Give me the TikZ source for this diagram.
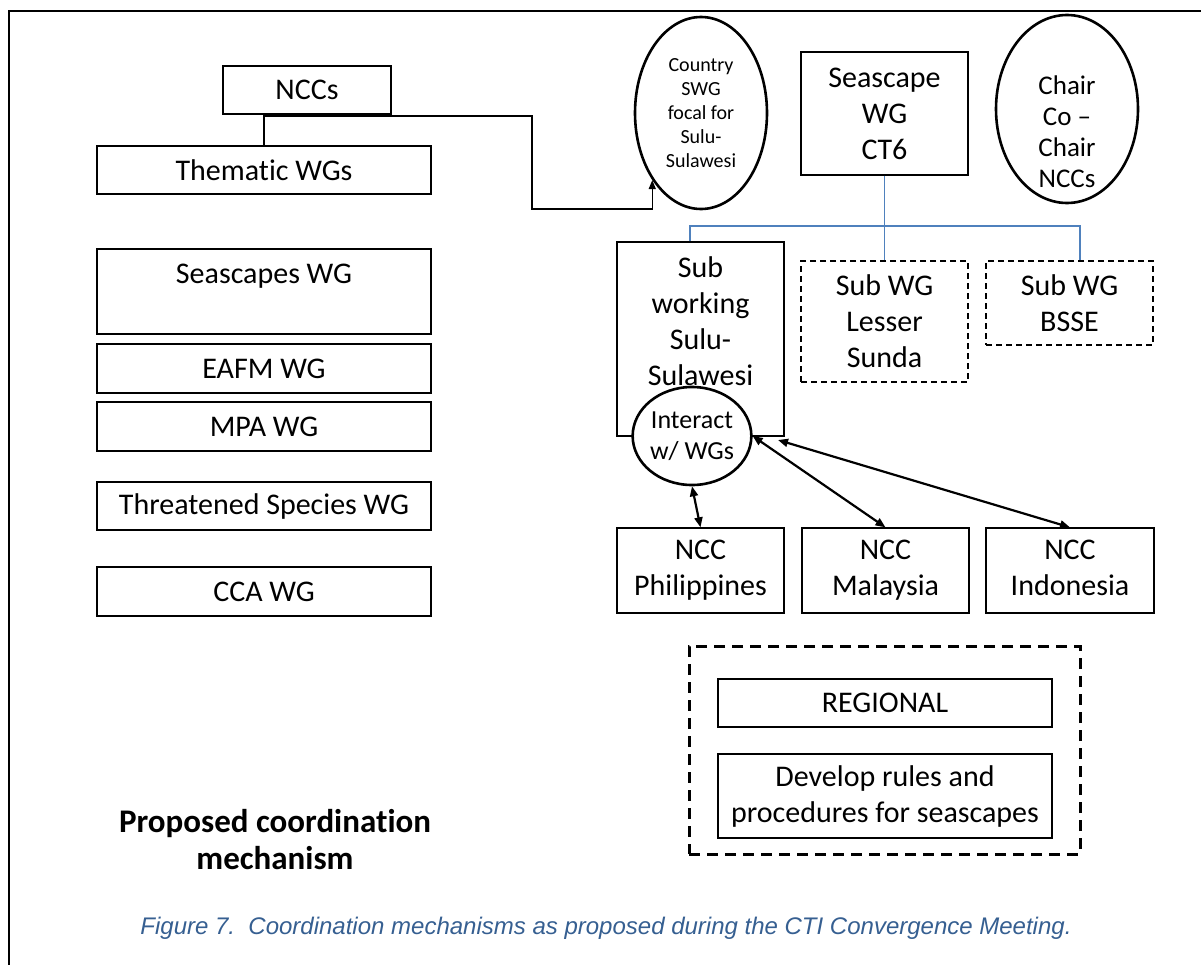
\documentclass[tikz,border=0pt]{standalone}
\usepackage{fontspec}
\setmainfont[Ligatures=NoCommon]{Carlito}
\newfontfamily\capfont{Liberation Sans}
\usetikzlibrary{arrows.meta,shapes.geometric}
\definecolor{lineblue}{RGB}{79,129,189}
\definecolor{capblue}{RGB}{54,95,145}
\begin{document}
\begin{tikzpicture}[x=1bp,y=-1bp,
  box/.style={draw, line width=1.3bp, inner sep=0pt, align=center},
  dbox/.style={box, dash pattern=on 6bp off 4bp},
  ov/.style={draw, ellipse, line width=2.6bp, inner sep=0pt, align=center},
  fthirty/.style={font=\fontsize{30bp}{36bp}\selectfont},
  ftwentysix/.style={font=\fontsize{26bp}{31bp}\selectfont},
  ftwentyseven/.style={font=\fontsize{27bp}{31bp}\selectfont},
  ftwenty/.style={font=\fontsize{20bp}{24bp}\selectfont},
  conn/.style={line width=1.3bp},
  bluel/.style={draw=lineblue, line width=1.3bp},
  biarr/.style={line width=2.2bp, {Triangle[length=10bp,width=8bp]}-{Triangle[length=10bp,width=8bp]}},
]
\useasboundingbox (0,0) rectangle (1201,965);
% frame
\draw[line width=1.5bp] (9,965) -- (9,11) -- (1201,11);

% left column
\node[box,fthirty,minimum width=168bp,minimum height=48bp] (ncc) at (307,90) {NCCs};
\node[box,fthirty,minimum width=334bp,minimum height=48bp] (them) at (264,170) {Thematic WGs};
\node[box,fthirty,minimum width=334bp,minimum height=85bp] (seas) at (264,291.5) {Seascapes WG\\\mbox{}};
\node[box,fthirty,minimum width=334bp,minimum height=49bp] (eafm) at (264,368.5) {EAFM WG};
\node[box,fthirty,minimum width=334bp,minimum height=49bp] (mpa) at (264,426.5) {MPA WG};
\node[box,fthirty,minimum width=334bp,minimum height=48bp] (thr) at (264,506) {Threatened Species WG};
\node[box,fthirty,minimum width=334bp,minimum height=49bp] (cca) at (264,591.5) {CCA WG};

% top right
\node[ov,ftwenty,minimum width=132bp,minimum height=192bp] (country) at (701,113) {Country\\SWG\\focal for\\Sulu-\\Sulawesi};
\node[box,fthirty,minimum width=167bp,minimum height=123bp] (swg) at (884.5,113.5) {Seascape\\WG\\CT6};
\node[ov,minimum width=142bp,minimum height=188bp] (chair) at (1067,109) {};
\node[ftwentyseven,align=center,inner sep=0pt] (chairt) at (1067,132) {Chair\\Co –\\Chair\\NCCs};

% sub working groups
\node[box,fthirty,minimum width=167bp,minimum height=194bp] (sub) at (700.5,339) {Sub\\working\\Sulu-\\Sulawesi\\\mbox{}};
\node[dbox,fthirty,minimum width=167bp,minimum height=121bp] (lesser) at (884.5,321.5) {Sub WG\\Lesser\\Sunda};
\node[dbox,fthirty,minimum width=167bp,minimum height=84bp] (bsse) at (1069.5,303) {Sub WG\\BSSE};
\node[ov,fill=white,ftwentysix,minimum width=116bp,minimum height=98bp] (inter) at (692,436) {Interact\\w/ WGs};

% NCC boxes
\node[box,fthirty,minimum width=167bp,minimum height=85bp] (phil) at (700.5,570.5) {NCC\\Philippines};
\node[box,fthirty,minimum width=167bp,minimum height=85bp] (mal) at (885.5,570.5) {NCC\\Malaysia};
\node[box,fthirty,minimum width=168bp,minimum height=85bp] (ind) at (1070,570.5) {NCC\\Indonesia\vphantom{p}};

% regional
\node[draw,line width=3bp,dash pattern=on 11bp off 7bp,minimum width=391bp,minimum height=208bp] (reg) at (884.5,750) {};
\node[box,fthirty,minimum width=334bp,minimum height=48bp] (regional) at (885,703) {REGIONAL};
\node[box,fthirty,minimum width=334bp,minimum height=84bp] (dev) at (885,796) {Develop rules and\\procedures for seascapes};

% title and caption
\node[font=\bfseries\fontsize{33bp}{37bp}\selectfont,align=center] (title) at (275,840) {Proposed coordination\\mechanism};
\node[anchor=base,font=\capfont\itshape\fontsize{24bp}{28bp}\selectfont,text=capblue] (cap) at (606,934) {Figure 7.\ \ Coordination mechanisms as proposed during the CTI Convergence Meeting.};

% connectors
\coordinate (k1) at (532,116);
\coordinate (k2) at (600,209);
\draw[conn,-{Triangle[length=9bp,width=7bp]}] (them.north) |- (k1) |- (k2) -| (country.234);

\coordinate (bl) at (690,226);
\coordinate (br) at (1080,226);
\draw[bluel] (swg.south) -- (lesser.north);
\draw[bluel] (bl |- sub.north) -- (bl) -- (br) -- (br |- bsse.north);

\coordinate (sx) at (778,440);
\draw[biarr] (inter.south) -- (phil.north);
\draw[biarr] (inter.east) -- (mal.north);
\draw[biarr] (sx) -- (ind.north);
\end{tikzpicture}
\end{document}
